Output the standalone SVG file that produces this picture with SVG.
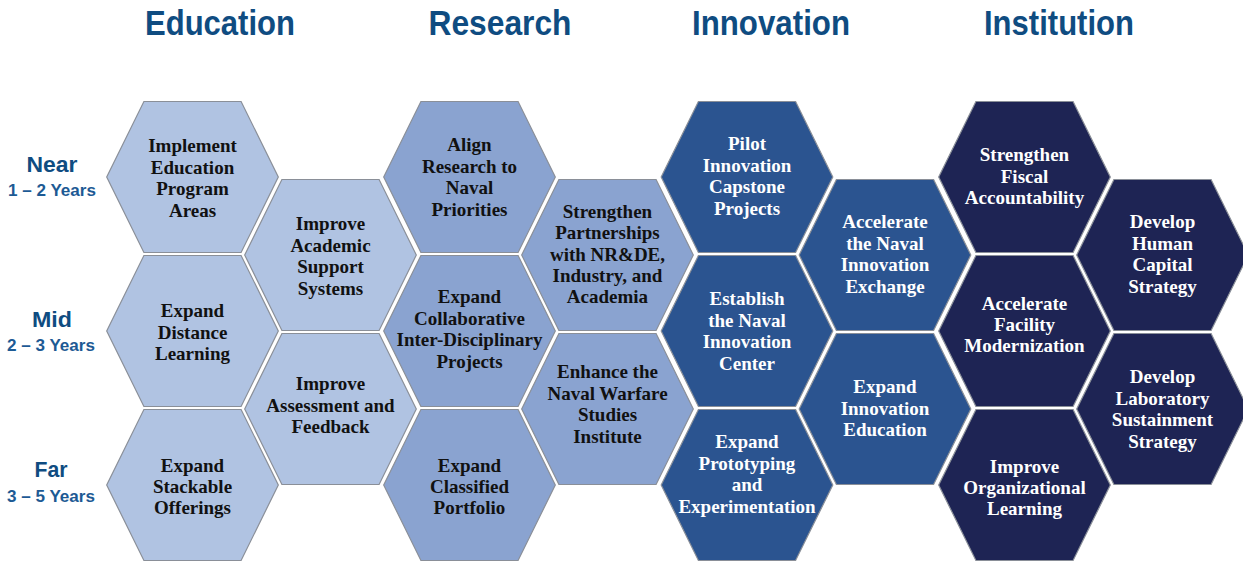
<svg xmlns="http://www.w3.org/2000/svg" xmlns:xlink="http://www.w3.org/1999/xlink" width="1243" height="564" viewBox="0 0 1243 564">
<style>
.bg{fill:#ffffff}
.hex{stroke:#8a8f98;stroke-width:1.2}
.edu{fill:#b0c3e2}
.res{fill:#8aa3d0}
.inn{fill:#2b5490}
.ins{fill:#1e2454}
.head{font-family:"Liberation Sans",Arial,sans-serif;font-weight:bold;font-size:35px;fill:#0f4c81;text-anchor:middle}
.term{font-family:"Liberation Sans",Arial,sans-serif;font-weight:bold;font-size:22px;fill:#0f4c81;text-anchor:middle}
.yrs{font-family:"Liberation Sans",Arial,sans-serif;font-weight:bold;font-size:17px;fill:#1d5a94;text-anchor:middle}
.t{font-family:"Liberation Serif","Times New Roman",serif;font-weight:bold;font-size:19px;text-anchor:middle}
.dk{fill:#111111}
.lt{fill:#ffffff}
</style>
<defs>
<polygon id="hx" points="-85.8,0 -48.6,-75.5 48.6,-75.5 85.8,0 48.6,75.5 -48.6,75.5"/>
</defs>
<rect class="bg" x="0" y="0" width="1243" height="564"/>

<g id="headers">
<text class="head" x="220" y="35" textLength="150" lengthAdjust="spacingAndGlyphs">Education</text>
<text class="head" x="500" y="35" textLength="143" lengthAdjust="spacingAndGlyphs">Research</text>
<text class="head" x="771" y="35" textLength="158" lengthAdjust="spacingAndGlyphs">Innovation</text>
<text class="head" x="1059" y="35" textLength="150" lengthAdjust="spacingAndGlyphs">Institution</text>
</g>

<g id="terms">
<text class="term" x="52" y="172" textLength="51" lengthAdjust="spacingAndGlyphs">Near</text>
<text class="yrs" x="52" y="196" textLength="88" lengthAdjust="spacingAndGlyphs">1 – 2 Years</text>
<text class="term" x="52" y="327" textLength="40" lengthAdjust="spacingAndGlyphs">Mid</text>
<text class="yrs" x="51" y="351" textLength="88" lengthAdjust="spacingAndGlyphs">2 – 3 Years</text>
<text class="term" x="51" y="477" textLength="33" lengthAdjust="spacingAndGlyphs">Far</text>
<text class="yrs" x="51" y="502" textLength="88" lengthAdjust="spacingAndGlyphs">3 – 5 Years</text>
</g>

<g id="connectors"></g>

<g id="n1"><use xlink:href="#hx" class="hex edu" transform="translate(192.5,177)"/>
<text class="t dk" x="192.5" y="152"><tspan x="192.5">Implement</tspan><tspan x="192.5" dy="21.5">Education</tspan><tspan x="192.5" dy="21.5">Program</tspan><tspan x="192.5" dy="21.5">Areas</tspan></text></g>
<g id="n2"><use xlink:href="#hx" class="hex edu" transform="translate(192.5,331)"/>
<text class="t dk" x="192.5" y="317"><tspan x="192.5">Expand</tspan><tspan x="192.5" dy="21.5">Distance</tspan><tspan x="192.5" dy="21.5">Learning</tspan></text></g>
<g id="n3"><use xlink:href="#hx" class="hex edu" transform="translate(192.5,485)"/>
<text class="t dk" x="192.5" y="472"><tspan x="192.5">Expand</tspan><tspan x="192.5" dy="21">Stackable</tspan><tspan x="192.5" dy="21">Offerings</tspan></text></g>
<g id="n4"><use xlink:href="#hx" class="hex edu" transform="translate(330.5,255)"/>
<text class="t dk" x="330.5" y="230"><tspan x="330.5">Improve</tspan><tspan x="330.5" dy="21.5">Academic</tspan><tspan x="330.5" dy="21.5">Support</tspan><tspan x="330.5" dy="21.5">Systems</tspan></text></g>
<g id="n5"><use xlink:href="#hx" class="hex edu" transform="translate(330.5,409)"/>
<text class="t dk" x="330.5" y="390"><tspan x="330.5">Improve</tspan><tspan x="330.5" dy="21.5">Assessment and</tspan><tspan x="330.5" dy="21.5">Feedback</tspan></text></g>

<g id="n6"><use xlink:href="#hx" class="hex res" transform="translate(469.5,177)"/>
<text class="t dk" x="469.5" y="151"><tspan x="469.5">Align</tspan><tspan x="469.5" dy="21.5">Research to</tspan><tspan x="469.5" dy="21.5">Naval</tspan><tspan x="469.5" dy="21.5">Priorities</tspan></text></g>
<g id="n7"><use xlink:href="#hx" class="hex res" transform="translate(469.5,331)"/>
<text class="t dk" x="469.5" y="303"><tspan x="469.5">Expand</tspan><tspan x="469.5" dy="21.5">Collaborative</tspan><tspan x="469.5" dy="21.5">Inter-Disciplinary</tspan><tspan x="469.5" dy="21.5">Projects</tspan></text></g>
<g id="n8"><use xlink:href="#hx" class="hex res" transform="translate(469.5,485)"/>
<text class="t dk" x="469.5" y="472"><tspan x="469.5">Expand</tspan><tspan x="469.5" dy="21">Classified</tspan><tspan x="469.5" dy="21">Portfolio</tspan></text></g>
<g id="n9"><use xlink:href="#hx" class="hex res" transform="translate(607.5,255)"/>
<text class="t dk" x="607.5" y="218"><tspan x="607.5">Strengthen</tspan><tspan x="607.5" dy="21.3">Partnerships</tspan><tspan x="607.5" dy="21.3">with NR&amp;DE,</tspan><tspan x="607.5" dy="21.3">Industry, and</tspan><tspan x="607.5" dy="21.3">Academia</tspan></text></g>
<g id="n10"><use xlink:href="#hx" class="hex res" transform="translate(607.5,409)"/>
<text class="t dk" x="607.5" y="378"><tspan x="607.5">Enhance the</tspan><tspan x="607.5" dy="21.5">Naval Warfare</tspan><tspan x="607.5" dy="21.5">Studies</tspan><tspan x="607.5" dy="21.5">Institute</tspan></text></g>

<g id="n11"><use xlink:href="#hx" class="hex inn" transform="translate(747,177)"/>
<text class="t lt" x="747" y="150"><tspan x="747">Pilot</tspan><tspan x="747" dy="21.5">Innovation</tspan><tspan x="747" dy="21.5">Capstone</tspan><tspan x="747" dy="21.5">Projects</tspan></text></g>
<g id="n12"><use xlink:href="#hx" class="hex inn" transform="translate(747,331)"/>
<text class="t lt" x="747" y="305"><tspan x="747">Establish</tspan><tspan x="747" dy="21.5">the Naval</tspan><tspan x="747" dy="21.5">Innovation</tspan><tspan x="747" dy="21.5">Center</tspan></text></g>
<g id="n13"><use xlink:href="#hx" class="hex inn" transform="translate(747,485)"/>
<text class="t lt" x="747" y="448"><tspan x="747">Expand</tspan><tspan x="747" dy="21.5">Prototyping</tspan><tspan x="747" dy="21.5">and</tspan><tspan x="747" dy="21.5">Experimentation</tspan></text></g>
<g id="n14"><use xlink:href="#hx" class="hex inn" transform="translate(885,255)"/>
<text class="t lt" x="885" y="228"><tspan x="885">Accelerate</tspan><tspan x="885" dy="21.5">the Naval</tspan><tspan x="885" dy="21.5">Innovation</tspan><tspan x="885" dy="21.5">Exchange</tspan></text></g>
<g id="n15"><use xlink:href="#hx" class="hex inn" transform="translate(885,409)"/>
<text class="t lt" x="885" y="393"><tspan x="885">Expand</tspan><tspan x="885" dy="21.5">Innovation</tspan><tspan x="885" dy="21.5">Education</tspan></text></g>

<g id="n16"><use xlink:href="#hx" class="hex ins" transform="translate(1024.5,177)"/>
<text class="t lt" x="1024.5" y="161"><tspan x="1024.5">Strengthen</tspan><tspan x="1024.5" dy="21.5">Fiscal</tspan><tspan x="1024.5" dy="21.5">Accountability</tspan></text></g>
<g id="n17"><use xlink:href="#hx" class="hex ins" transform="translate(1024.5,331)"/>
<text class="t lt" x="1024.5" y="310"><tspan x="1024.5">Accelerate</tspan><tspan x="1024.5" dy="21">Facility</tspan><tspan x="1024.5" dy="21">Modernization</tspan></text></g>
<g id="n18"><use xlink:href="#hx" class="hex ins" transform="translate(1024.5,485)"/>
<text class="t lt" x="1024.5" y="473"><tspan x="1024.5">Improve</tspan><tspan x="1024.5" dy="21">Organizational</tspan><tspan x="1024.5" dy="21">Learning</tspan></text></g>
<g id="n19"><use xlink:href="#hx" class="hex ins" transform="translate(1162.5,255)"/>
<text class="t lt" x="1162.5" y="228"><tspan x="1162.5">Develop</tspan><tspan x="1162.5" dy="21.5">Human</tspan><tspan x="1162.5" dy="21.5">Capital</tspan><tspan x="1162.5" dy="21.5">Strategy</tspan></text></g>
<g id="n20"><use xlink:href="#hx" class="hex ins" transform="translate(1162.5,409)"/>
<text class="t lt" x="1162.5" y="383"><tspan x="1162.5">Develop</tspan><tspan x="1162.5" dy="21.5">Laboratory</tspan><tspan x="1162.5" dy="21.5">Sustainment</tspan><tspan x="1162.5" dy="21.5">Strategy</tspan></text></g>
</svg>
